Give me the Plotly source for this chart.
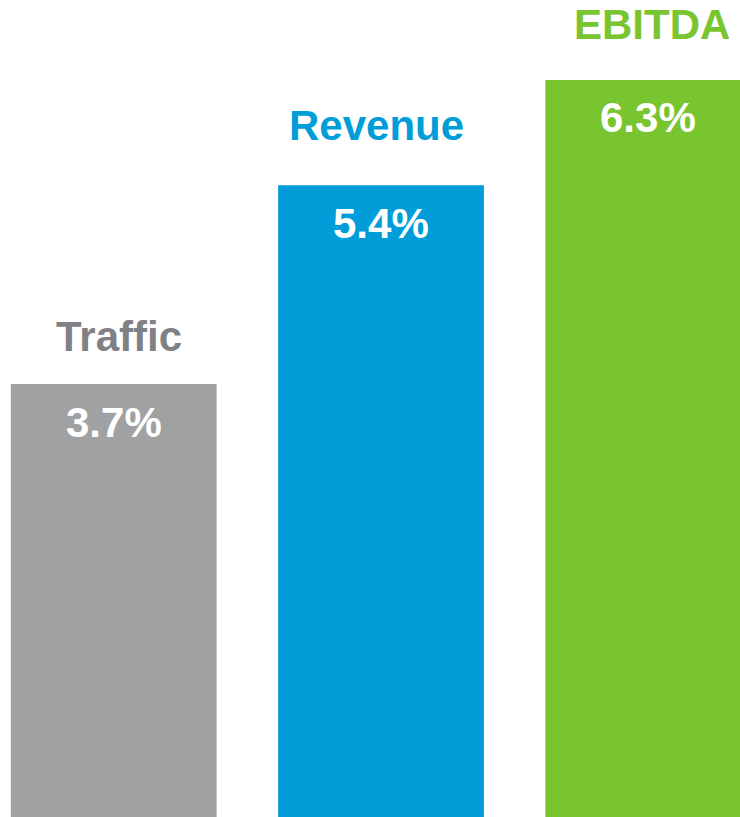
import plotly.graph_objects as go

categories = ["Traffic", "Revenue", "EBITDA"]
values = [3.7, 5.4, 6.3]
value_labels = ["3.7%", "5.4%", "6.3%"]

bar_colors = ["#A0A1A3", "#009DD9", "#78C52F"]
label_colors = ["#808185", "#009DD9", "#78C52F"]
label_yshift = [48, 60, 55]
label_xshift = [5, -5, 4]

x_idx = list(range(len(categories)))

fig = go.Figure()
fig.add_trace(go.Bar(
    x=x_idx, y=values, width=0.77,
    marker=dict(color=bar_colors, line=dict(width=0)),
    hoverinfo="skip",
))

font_family = "Liberation Sans, Arial, sans-serif"
for i, (c, v, t) in enumerate(zip(categories, values, value_labels)):
    fig.add_annotation(x=i, y=v, text=f"<b>{c}</b>", showarrow=False,
                       xanchor="center", yanchor="middle",
                       yshift=label_yshift[i], xshift=label_xshift[i],
                       font=dict(family=font_family, size=42, color=label_colors[i]))
    fig.add_annotation(x=i, y=v, text=f"<b>{t}</b>", showarrow=False,
                       xanchor="center", yanchor="middle", yshift=-38,
                       font=dict(family=font_family, size=42, color="white"))

fig.update_layout(
    width=740, height=817,
    margin=dict(l=0, r=0, t=0, b=0),
    paper_bgcolor="white", plot_bgcolor="white",
    showlegend=False,
    xaxis=dict(range=[-0.4254, 2.343], visible=False, fixedrange=True),
    yaxis=dict(range=[0, 6.983], visible=False, fixedrange=True),
)
fig.write_html("out.html", config={"displayModeBar": False},
               post_script="document.body.style.margin='0';document.body.style.overflow='hidden';")
